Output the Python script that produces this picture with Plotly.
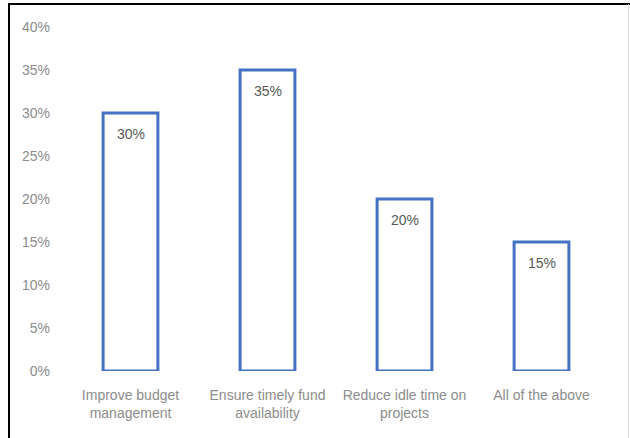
import plotly.graph_objects as go

categories = ["Improve budget<br>management", "Ensure timely fund<br>availability",
              "Reduce idle time on<br>projects", "All of the above"]
values = [0.30, 0.35, 0.20, 0.15]
labels = ["30%", "35%", "20%", "15%"]
y_ticks = [0, 0.05, 0.10, 0.15, 0.20, 0.25, 0.30, 0.35, 0.40]
y_tick_text = ["0%", "5%", "10%", "15%", "20%", "25%", "30%", "35%", "40%"]

FONT = "Liberation Sans, Arial"
W, H = 630, 438
L, R, T, B = 62, 20, 27, 67
pw, ph = W - L - R, H - T - B

def px(x):
    return (x - L) / pw

def py(y):
    return (H - B - y) / ph

fig = go.Figure(go.Bar(
    x=categories, y=values,
    marker=dict(color="white", line=dict(color="#4472C4", width=3)),
    width=0.4,
))

for c, v, t in zip(categories, values, labels):
    fig.add_annotation(x=c, y=v, text=t, showarrow=False, yshift=-21,
                       yanchor="middle",
                       font=dict(family=FONT, size=14, color="#595959"))

fig.update_layout(
    width=W, height=H,
    margin=dict(l=L, r=R, t=T, b=B),
    paper_bgcolor="white", plot_bgcolor="white",
    showlegend=False,
    font=dict(family=FONT, size=14, color="#8c8c8c"),
    xaxis=dict(showgrid=False, showline=False, zeroline=False, ticks="",
               ticklabelstandoff=14,
               tickfont=dict(family=FONT, size=14, color="#8c8c8c")),
    yaxis=dict(range=[0, 0.4], tickvals=y_ticks, ticktext=y_tick_text,
               showgrid=False, showline=False, zeroline=False, ticks="",
               ticklabelstandoff=11,
               tickfont=dict(family=FONT, size=14, color="#8c8c8c")),
    shapes=[
        dict(type="line", xref="paper", yref="paper", x0=px(9), x1=px(9), y0=py(4), y1=py(438),
             line=dict(color="black", width=2)),
        dict(type="line", xref="paper", yref="paper", x0=px(8), x1=px(630), y0=py(4), y1=py(4),
             line=dict(color="black", width=2)),
        dict(type="line", xref="paper", yref="paper", x0=px(628.5), x1=px(628.5), y0=py(4), y1=py(438),
             line=dict(color="#d9d9d9", width=1)),
    ],
)

fig.write_html("out.html")
